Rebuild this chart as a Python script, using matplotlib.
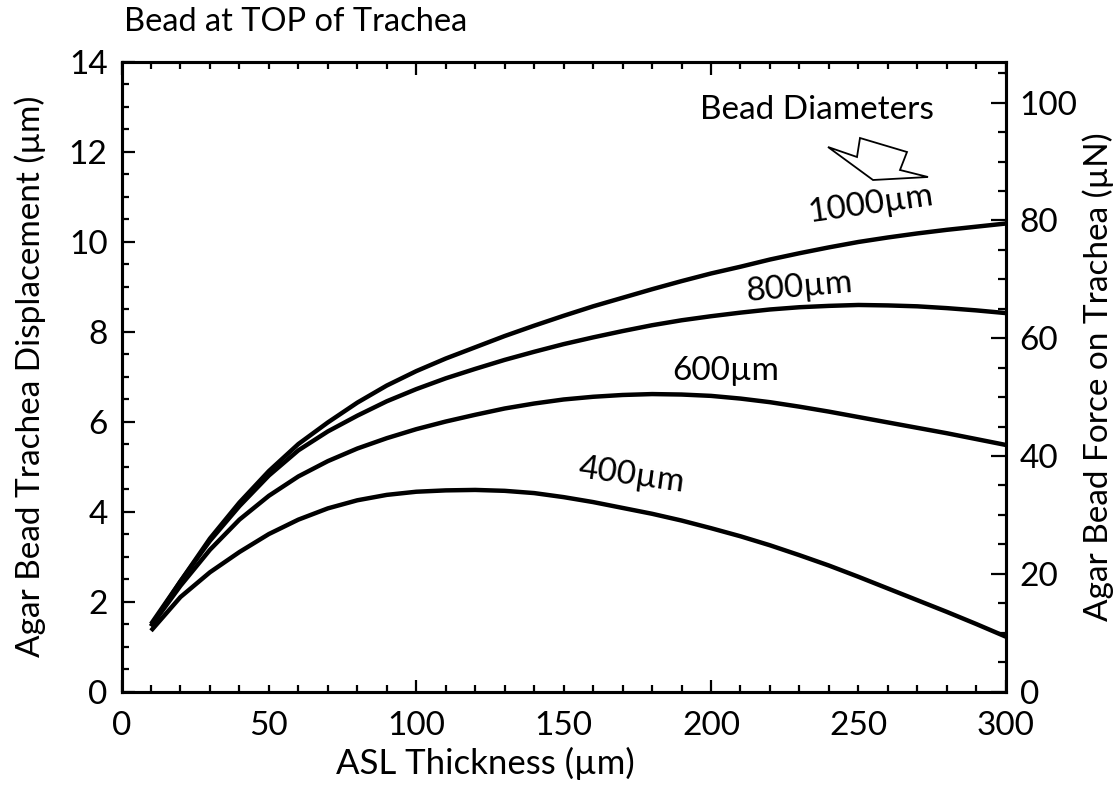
import numpy as np
import matplotlib
matplotlib.use("Agg")
import matplotlib.pyplot as plt
from matplotlib.ticker import MultipleLocator, FuncFormatter
from matplotlib.patches import Polygon

plt.rcParams['font.family'] = ['Lato', 'DejaVu Sans']

# ASL thickness (um)
asl = list(range(10, 301, 10))

# bead displacement (um) for each bead diameter
d400 = [1.35, 2.10, 2.65, 3.10, 3.50, 3.82, 4.07, 4.25, 4.37, 4.44,
        4.47, 4.48, 4.46, 4.41, 4.32, 4.21, 4.08, 3.95, 3.80, 3.63,
        3.45, 3.25, 3.03, 2.80, 2.55, 2.29, 2.03, 1.77, 1.50, 1.22]
d600 = [1.45, 2.35, 3.15, 3.82, 4.35, 4.78, 5.12, 5.40, 5.63, 5.83,
        6.00, 6.15, 6.29, 6.40, 6.49, 6.55, 6.59, 6.61, 6.60, 6.57,
        6.51, 6.43, 6.33, 6.22, 6.10, 5.98, 5.86, 5.74, 5.61, 5.48]
d800 = [1.50, 2.45, 3.35, 4.12, 4.80, 5.36, 5.78, 6.13, 6.45, 6.72,
        6.96, 7.17, 7.37, 7.55, 7.72, 7.87, 8.01, 8.14, 8.25, 8.34,
        8.42, 8.49, 8.54, 8.57, 8.59, 8.58, 8.56, 8.52, 8.47, 8.41]
d1000 = [1.45, 2.45, 3.40, 4.20, 4.90, 5.50, 5.98, 6.42, 6.80, 7.12,
         7.40, 7.65, 7.90, 8.13, 8.35, 8.56, 8.75, 8.94, 9.12, 9.29,
         9.44, 9.60, 9.74, 9.87, 9.99, 10.09, 10.18, 10.26, 10.33, 10.40]

curve_labels = ["400µm", "600µm", "800µm", "1000µm"]

W, H = 1120, 799
fig = plt.figure(figsize=(11.2, 7.99), dpi=100)
ax = fig.add_axes([0.1085, 0.1345, 0.7895, 0.7885])

for ys in (d400, d600, d800, d1000):
    ax.plot(asl, ys, color='black', lw=3.2, solid_capstyle='butt', solid_joinstyle='round')

ax.set_xlim(0, 300)
ax.set_ylim(0, 14)

# x: long ticks at 100s, labels every 50, minor every 10
ax.xaxis.set_major_locator(MultipleLocator(100))
ax.xaxis.set_minor_locator(MultipleLocator(10))
ax.xaxis.set_minor_formatter(FuncFormatter(lambda v, p: f"{v:g}" if abs(v % 50) < 1e-6 else ""))
ax.yaxis.set_major_locator(MultipleLocator(2))
ax.yaxis.set_minor_locator(MultipleLocator(0.5))

ax.tick_params(which='both', direction='in', top=True, right=False, width=1.6, labelsize=24, pad=10)
ax.tick_params(axis='x', which='both', pad=14)
ax.tick_params(which='major', length=9)
ax.tick_params(which='minor', length=5)

for s in ax.spines.values():
    s.set_linewidth(2.2)

ax.set_xlabel("ASL Thickness (µm)", fontsize=25)
ax.xaxis.set_label_coords(0.412, -0.088)
ax.set_ylabel("Agar Bead Trachea Displacement (µm)", fontsize=24)
ax.yaxis.set_label_coords(-0.085, 0.5)

# right axis: force
ax2 = ax.twinx()
ax2.set_ylim(0, 107)
ax2.yaxis.set_major_locator(MultipleLocator(20))
ax2.yaxis.set_minor_locator(MultipleLocator(5))
ax2.tick_params(which='both', direction='in', width=1.6, labelsize=24, pad=10)
ax2.tick_params(which='major', length=11)
ax2.tick_params(which='minor', length=6)
for s in ax2.spines.values():
    s.set_linewidth(2.2)
ax2.set_ylabel("Agar Bead Force on Trachea (µN)", fontsize=24)
ax2.yaxis.set_label_coords(1.087, 0.5)

# curve labels
ax.text(173, 4.8, curve_labels[0], fontsize=24, rotation=-8, ha='center', va='center')
ax.text(205, 7.12, curve_labels[1], fontsize=24, rotation=0, ha='center', va='center')
ax.text(230, 8.97, curve_labels[2], fontsize=24, rotation=5, ha='center', va='center')
ax.text(254, 10.82, curve_labels[3], fontsize=24, rotation=8, ha='center', va='center')

fig.text(700 / W, 1 - 110 / H, "Bead Diameters", fontsize=24, ha='left', va='center')

# hollow block arrow (figure pixel coords)
arrow_px = [(828, 147), (857, 157), (860, 138), (907, 152), (900, 170), (928, 177), (873, 180)]
arrow = Polygon([(x / W, 1 - y / H) for x, y in arrow_px], closed=True,
                facecolor='white', edgecolor='black', lw=1.3, transform=fig.transFigure)
fig.patches.append(arrow)

fig.text(124 / W, 1 - 22 / H, "Bead at TOP of Trachea", fontsize=23.5, ha='left', va='center')

fig.savefig("out.png", dpi=100)
